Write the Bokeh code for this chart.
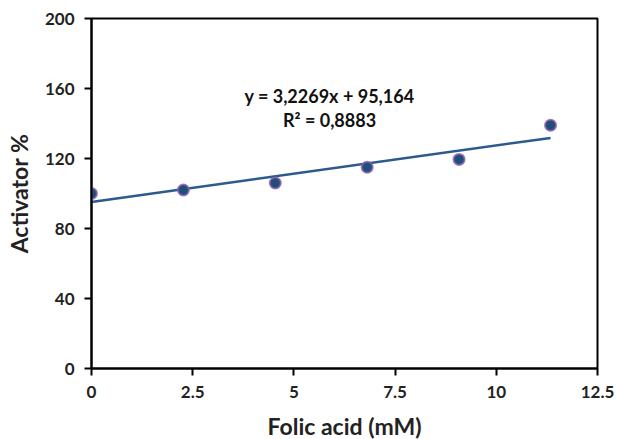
from bokeh.plotting import figure
from bokeh.models import FixedTicker, Label, ColumnDataSource
from bokeh.embed import file_html
from bokeh.resources import INLINE

# Data
folic_acid = [0, 2.27, 4.54, 6.81, 9.08, 11.34]
activator = [100, 102, 106, 115, 119.5, 139]
slope = 3.2269
intercept = 95.164
r_squared = "0,8883"
trend_x = [0, 11.34]
x_ticks = [0, 2.5, 5, 7.5, 10, 12.5]
x_tick_labels = ["0", "2.5", "5", "7.5", "10", "12.5"]
y_ticks = [0, 40, 80, 120, 160, 200]

FONT = "Lato"

p = figure(width=617, height=439, output_backend="svg", toolbar_location=None,
           x_range=(0, 12.5), y_range=(0, 200),
           min_border_left=91, min_border_right=20, min_border_top=18, min_border_bottom=71)
p.frame_width = 506
p.frame_height = 350
p.xgrid.visible = False
p.ygrid.visible = False
p.outline_line_color = "black"
p.outline_line_width = 2
p.outline_line_alpha = 1
p.background_fill_color = "white"
p.border_fill_color = "white"

for ax in (p.xaxis[0], p.yaxis[0]):
    ax.axis_line_width = 2
    ax.axis_line_color = "black"
    ax.major_tick_line_width = 2
    ax.major_tick_line_color = "black"
    ax.major_tick_out = 7
    ax.major_tick_in = 0
    ax.minor_tick_line_color = None
    ax.major_label_text_font = FONT
    ax.major_label_text_font_style = "bold"
    ax.major_label_text_font_size = "17px"
    ax.major_label_text_color = "#222222"
    ax.axis_label_text_font = FONT
    ax.axis_label_text_font_style = "bold"
    ax.axis_label_text_font_size = "23px"
    ax.axis_label_text_color = "#222222"

p.xaxis.ticker = FixedTicker(ticks=x_ticks)
p.xaxis.major_label_overrides = {t: l for t, l in zip(x_ticks, x_tick_labels)}
p.yaxis.ticker = FixedTicker(ticks=y_ticks)
p.xaxis.axis_label = "Folic acid (mM)"
p.yaxis.axis_label = "Activator %"
p.xaxis.major_label_standoff = 10
p.xaxis.axis_label_standoff = 11
p.yaxis.major_label_standoff = 10
p.yaxis.axis_label_standoff = 9

trend_y = [slope * x + intercept for x in trend_x]
p.line(trend_x, trend_y, line_color="#2c5a8e", line_width=2.5)

src = ColumnDataSource(dict(x=folic_acid, y=activator))
p.scatter("x", "y", source=src, size=11, fill_color="#1f4e79",
          line_color="#8a5db0", line_width=2, line_alpha=0.8)

eq = "y = " + f"{slope}".replace(".", ",") + "x + " + f"{intercept}".replace(".", ",")
p.add_layout(Label(x=5.88, y=156, text=eq, text_align="center", text_baseline="middle",
                   text_font=FONT, text_font_style="bold", text_font_size="18px",
                   text_color="#111111"))
p.add_layout(Label(x=5.88, y=142, text="R² = " + r_squared, text_align="center",
                   text_baseline="middle", text_font=FONT, text_font_style="bold",
                   text_font_size="18px", text_color="#111111"))

open("out.html", "w").write(file_html(p, INLINE))
